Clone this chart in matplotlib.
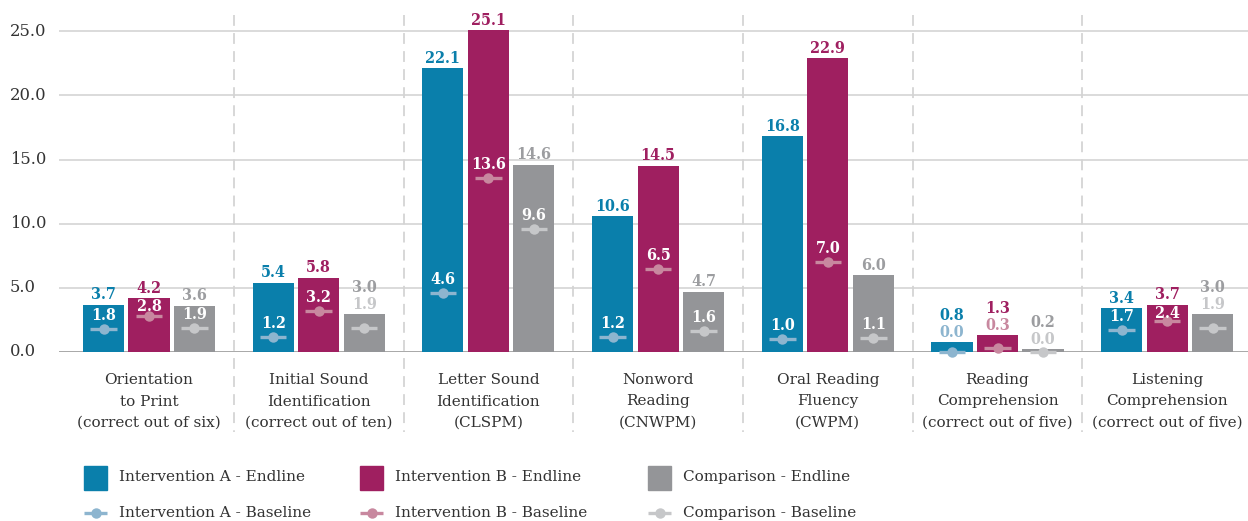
import matplotlib
matplotlib.use("Agg")
import matplotlib.pyplot as plt
from matplotlib.patches import Rectangle
from matplotlib.lines import Line2D
from matplotlib.transforms import blended_transform_factory
import numpy as np

# ---- data -------------------------------------------------------------
categories = [
    ["Orientation", "to Print", "(correct out of six)"],
    ["Initial Sound", "Identification", "(correct out of ten)"],
    ["Letter Sound", "Identification", "(CLSPM)"],
    ["Nonword", "Reading", "(CNWPM)"],
    ["Oral Reading", "Fluency", "(CWPM)"],
    ["Reading", "Comprehension", "(correct out of five)"],
    ["Listening", "Comprehension", "(correct out of five)"],
]
endline_a = [3.7, 5.4, 22.1, 10.6, 16.8, 0.8, 3.4]
endline_b = [4.2, 5.8, 25.1, 14.5, 22.9, 1.3, 3.7]
endline_c = [3.6, 3.0, 14.6, 4.7, 6.0, 0.2, 3.0]
baseline_a = [1.8, 1.2, 4.6, 1.2, 1.0, 0.0, 1.7]
baseline_b = [2.8, 3.2, 13.6, 6.5, 7.0, 0.3, 2.4]
baseline_c = [1.9, 1.9, 9.6, 1.6, 1.1, 0.0, 1.9]
yticks = [0, 5, 10, 15, 20, 25]

series_names = ["Intervention A", "Intervention B", "Comparison"]

# ---- style ------------------------------------------------------------
bar_colors = ["#0a7fab", "#9f1f60", "#949598"]
base_colors = ["#8db5cf", "#c8889f", "#c6c7c9"]
end_label_colors = ["#0a7fab", "#9f1f60", "#9c9da0"]
text_color = "#333333"
FONT = "DejaVu Serif"
VAL_KW = dict(fontsize=11.5, fontweight="bold", family=FONT,
              fontstretch="condensed", ha="center", va="center",
              textcoords="offset pixels", annotation_clip=False)

W, H, DPI = 1248, 521, 100
fig = plt.figure(figsize=(W / DPI, H / DPI), dpi=DPI)

ax_left, ax_right, ax_bottom, ax_top = 59, 1248, 352, 15
ax = fig.add_axes([ax_left / W, 1 - ax_bottom / H,
                   (ax_right - ax_left) / W, (ax_bottom - ax_top) / H])
pitch = 169.7
center0 = 149.0
ymax = 26.27
ax.set_xlim((ax_left - center0) / pitch, (ax_right - center0) / pitch)
ax.set_ylim(0, ymax)
px_per_unit = (ax_bottom - ax_top) / ymax
for s in ax.spines.values():
    s.set_visible(False)
ax.set_xticks([])
ax.set_yticks([])

# horizontal grid
for t in yticks[1:]:
    ax.axhline(t, color="#dadada", lw=1.4, zorder=0)
ax.axhline(0, color="#a8a8a8", lw=1.4, zorder=1)

x = np.arange(len(categories))
offsets = [-0.268, 0.0, 0.268]
bar_w = 0.242
endlines = [endline_a, endline_b, endline_c]
baselines = [baseline_a, baseline_b, baseline_c]
seg_half = 0.078

for k in range(3):
    xs = x + offsets[k]
    ax.bar(xs, endlines[k], width=bar_w, color=bar_colors[k], zorder=2)
    for xi, e, b in zip(xs, endlines[k], baselines[k]):
        ax.plot([xi - seg_half, xi + seg_half], [b, b], color=base_colors[k],
                lw=2.4, solid_capstyle="butt", zorder=3, clip_on=False)
        ax.plot([xi], [b], "o", ms=7.5, color=base_colors[k], mec="none",
                zorder=4, clip_on=False)
        gap_px = (e - b) * px_per_unit
        if e - b >= 1.2:
            # baseline value sits inside the bar, kept clear of its top edge
            dy = min(13.5, gap_px - 8.5)
            ax.annotate(f"{b:.1f}", (xi, b), xytext=(0, dy), color="white",
                        zorder=5, **VAL_KW)
            ax.annotate(f"{e:.1f}", (xi, e), xytext=(0, 10),
                        color=end_label_colors[k], zorder=5, **VAL_KW)
        else:
            # too little room: stack both values above the bar
            ax.annotate(f"{b:.1f}", (xi, e), xytext=(0, 9.5),
                        color=base_colors[k], zorder=5, **VAL_KW)
            ax.annotate(f"{e:.1f}", (xi, e), xytext=(0, 26.5),
                        color=end_label_colors[k], zorder=5, **VAL_KW)

# vertical dashed separators running down through the label area
sep_tr = blended_transform_factory(ax.transData, fig.transFigure)
for i in range(len(categories) - 1):
    fig.add_artist(Line2D([i + 0.5, i + 0.5], [1 - 15 / H, 1 - 432 / H],
                          transform=sep_tr, color="#d4d4d4", lw=1.3,
                          dashes=(6, 4)))

# y tick labels, left aligned at the figure edge
ytr = blended_transform_factory(fig.transFigure, ax.transData)
for t in yticks:
    fig.text(10 / W, t, f"{t:.1f}", transform=ytr, ha="left", va="center",
             fontsize=11.8, color=text_color, family=FONT)

# category labels
cat_tr = blended_transform_factory(ax.transData, fig.transFigure)
for i, lines in enumerate(categories):
    for j, line in enumerate(lines):
        fig.text(i, 1 - (384 + 21.5 * j) / H, line, transform=cat_tr,
                 ha="center", va="baseline", fontsize=11,
                 color=text_color, family=FONT)

# legend
leg_cols = [84, 360, 648]
for k in range(3):
    x0 = leg_cols[k]
    fig.add_artist(Rectangle((x0 / W, 1 - 490 / H), 23 / W, 24 / H,
                             transform=fig.transFigure, color=bar_colors[k]))
    fig.text((x0 + 35) / W, 1 - 477 / H, f"{series_names[k]} - Endline",
             ha="left", va="center", fontsize=11, color=text_color, family=FONT)
    fig.add_artist(Line2D([x0 / W, (x0 + 23) / W], [1 - 513 / H] * 2,
                          transform=fig.transFigure, color=base_colors[k],
                          lw=2.4, solid_capstyle="butt"))
    fig.add_artist(Line2D([(x0 + 11.5) / W], [1 - 513 / H],
                          transform=fig.transFigure, marker="o", ms=7.5,
                          color=base_colors[k], mec="none"))
    fig.text((x0 + 35) / W, 1 - 513 / H, f"{series_names[k]} - Baseline",
             ha="left", va="center", fontsize=11, color=text_color, family=FONT)

fig.savefig("out.png", dpi=DPI)
